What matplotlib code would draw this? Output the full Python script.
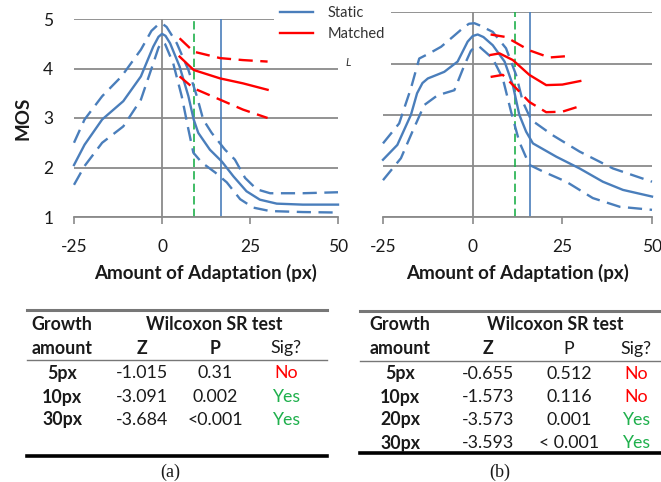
import numpy as np
import matplotlib
matplotlib.use('Agg')
import matplotlib.pyplot as plt
from matplotlib.lines import Line2D

plt.rcParams['font.family'] = ['Lato', 'DejaVu Sans']
plt.rcParams['axes.unicode_minus'] = False

# ---- chart (a) ----
a_static_x  = [-25, -22, -17, -11, -6, -2.5, -1, 0, 1, 2.3, 5, 7.5, 9, 10.3, 13.6, 17, 20.3, 24, 27.8, 32.6, 40, 50]
a_static_y  = [2.05, 2.46, 2.97, 3.34, 3.84, 4.44, 4.64, 4.70, 4.66, 4.51, 4.04, 3.44, 2.97, 2.70, 2.36, 2.12, 1.82, 1.52, 1.35, 1.27, 1.25, 1.25]
a_static_hx = [-25, -22, -17, -11.5, -6, -3, -1.2, 0, 1.3, 4.2, 7.5, 9.9, 11.7, 14.1, 17.9, 20.7, 23.6, 26.9, 30.7, 40, 50]
a_static_hy = [2.5, 2.97, 3.44, 3.84, 4.38, 4.76, 4.88, 4.91, 4.84, 4.51, 3.97, 3.44, 2.97, 2.70, 2.36, 2.16, 1.79, 1.56, 1.48, 1.48, 1.50]
a_static_lx = [-25, -22, -17, -11, -6, -2.5, -1, 0, 0.9, 3.2, 5.6, 7.5, 8.9, 11.3, 15.1, 18.4, 22.2, 25.9, 30.7, 40, 50]
a_static_ly = [1.65, 2.03, 2.5, 2.83, 3.37, 4.1, 4.42, 4.53, 4.49, 4.1, 3.44, 2.77, 2.3, 2.1, 1.9, 1.7, 1.36, 1.19, 1.12, 1.10, 1.09]
a_match_x   = [5, 9, 16.5, 23, 30]
a_match_y   = [4.24, 3.97, 3.80, 3.70, 3.57]
a_match_hy  = [4.61, 4.34, 4.21, 4.17, 4.14]
a_match_ly  = [3.84, 3.60, 3.37, 3.17, 3.00]
a_green, a_blue = 9.2, 16.8

# ---- chart (b) ----
b_static_x  = [-25, -21, -17.2, -15.5, -14, -12.5, -10, -7.9, -4.2, -1.4, 0, 1.4, 3, 5.6, 8.9, 11.2, 13, 14.9, 16.8, 23.3, 29.8, 36.3, 41.9, 50]
b_static_y  = [2.12, 2.41, 3.0, 3.42, 3.62, 3.71, 3.78, 3.84, 4.04, 4.43, 4.54, 4.57, 4.52, 4.36, 4.04, 3.58, 3.0, 2.67, 2.44, 2.18, 1.95, 1.69, 1.53, 1.40]
b_static_hx = [-25, -20.5, -17.2, -14.9, -12.1, -8.8, -5.6, -2.3, -1, 0.5, 1.9, 5.6, 9.3, 12.1, 14, 16.3, 22.3, 29.8, 39.1, 50]
b_static_hy = [2.44, 2.83, 3.52, 4.1, 4.2, 4.33, 4.52, 4.72, 4.78, 4.79, 4.75, 4.62, 4.3, 3.78, 3.25, 2.9, 2.6, 2.28, 1.95, 1.69]
b_static_lx = [-25, -20, -16.8, -13.5, -9.8, -5.1, -2.3, -0.5, 0.8, 1.9, 5.6, 8.4, 10.7, 13, 15.8, 19.6, 26.1, 33.5, 41, 50]
b_static_ly = [1.72, 2.15, 2.67, 3.19, 3.38, 3.48, 3.97, 4.25, 4.34, 4.33, 4.1, 3.71, 3.06, 2.47, 2.02, 1.89, 1.69, 1.37, 1.2, 1.14]
b_match_x   = [5, 7.5, 11.2, 15.8, 20.5, 25, 30]
b_match_y   = [4.17, 4.2, 4.07, 3.78, 3.58, 3.59, 3.66]
b_match_hx  = [5, 9.3, 15.8, 21.4, 27]
b_match_hy  = [4.57, 4.52, 4.26, 4.12, 4.15]
b_match_lx  = [5, 8.4, 12.1, 15.8, 20.5, 25, 30]
b_match_ly  = [3.74, 3.78, 3.52, 3.25, 3.05, 3.06, 3.17]
b_green, b_blue = 11.8, 16.0

# ---- tables ----
a_growth = ['5px', '10px', '30px']
a_z      = ['-1.015', '-3.091', '-3.684']
a_p      = ['0.31', '0.002', '<0.001']
a_sig    = ['No', 'Yes', 'Yes']
b_growth = ['5px', '10px', '20px', '30px']
b_z      = ['-0.655', '-1.573', '-3.573', '-3.593']
b_p      = ['0.512', '0.116', '0.001', '< 0.001']
b_sig    = ['No', 'No', 'Yes', 'Yes']

BLUE = '#4a7ebb'
RED = '#ff0000'
GREEN = '#1fb04c'
GRID = '#8a8a8a'
TXT = '#1a1a1a'
W, H = 661, 482

def fx(px): return px / W
def fy(py): return 1 - py / H

fig = plt.figure(figsize=(6.61, 4.82), dpi=100)
axA = fig.add_axes([fx(74), fy(217), (338 - 74) / W, (217 - 19) / H])
axB = fig.add_axes([fx(383), fy(217), (652 - 383) / W, (217 - 12.5) / H])

def setup(ax, ylabels):
    ax.set_xlim(-25, 50)
    ax.set_ylim(1, 5)
    for s in ['top', 'right', 'left']:
        ax.spines[s].set_visible(False)
    ax.spines['bottom'].set_color(GRID)
    ax.spines['bottom'].set_linewidth(1.3)
    ax.set_xticks([-25, 0, 25, 50])
    ax.set_yticks([1, 2, 3, 4, 5])
    ax.tick_params(axis='x', direction='out', length=5, width=1.2, color=GRID,
                   pad=11, labelsize=12.5, labelcolor=TXT)
    ax.tick_params(axis='y', length=0, pad=15, labelsize=12.5, labelcolor=TXT,
                   labelleft=ylabels)
    ax.yaxis.grid(True, color=GRID, lw=1.3)
    ax.axvline(0, color=GRID, lw=1.3, zorder=1)
    ax.set_axisbelow(True)
    ax.set_xlabel('Amount of Adaptation (px)', fontsize=13.5, fontweight='bold',
                  color=TXT, labelpad=6)

setup(axA, True)
setup(axB, False)
axA.set_ylabel('MOS', fontsize=13.5, fontweight='bold', color=TXT, labelpad=8)

dash = (0, (6, 3.2))
kw = dict(lw=1.7, clip_on=False, solid_joinstyle='round', dash_joinstyle='round')

def draw(ax, sx, sy, hx, hy, lx, ly, mx, my, mhx, mhy, mlx, mly, g, b):
    ax.axvline(g, color=GREEN, lw=1.2, ls=(0, (5, 2.5)), zorder=2)
    ax.axvline(b, color=BLUE, lw=1.2, zorder=2)
    ls, = ax.plot(sx, sy, color=BLUE, **kw)
    ax.plot(hx, hy, color=BLUE, ls=dash, **kw)
    ax.plot(lx, ly, color=BLUE, ls=dash, **kw)
    lm, = ax.plot(mx, my, color=RED, **kw)
    ax.plot(mhx, mhy, color=RED, ls=dash, **kw)
    ax.plot(mlx, mly, color=RED, ls=dash, **kw)
    return ls, lm

hs, hm = draw(axA, a_static_x, a_static_y, a_static_hx, a_static_hy, a_static_lx, a_static_ly,
              a_match_x, a_match_y, a_match_x, a_match_hy, a_match_x, a_match_ly, a_green, a_blue)
draw(axB, b_static_x, b_static_y, b_static_hx, b_static_hy, b_static_lx, b_static_ly,
     b_match_x, b_match_y, b_match_hx, b_match_hy, b_match_lx, b_match_ly, b_green, b_blue)

blank = Line2D([], [], color='none')
leg = fig.legend([hs, hm, blank], ['Static', 'Matched', ' '], loc='upper left',
                 bbox_to_anchor=(fx(274), fy(0)), fontsize=10.5, frameon=True,
                 facecolor='white', edgecolor='none', framealpha=1, fancybox=False,
                 borderpad=0.4, labelspacing=0.5, handlelength=2.3, handletextpad=1.0,
                 borderaxespad=0)
for t in leg.get_texts():
    t.set_color('#333333')
leg.set_zorder(10)
fig.text(fx(348), fy(62), 'L', fontsize=8, style='italic', color='#333333',
         ha='center', va='center', zorder=11)

# ---- tables ----
def table(x0, x1, ytop, yhead, ybot, cols, rows_y, growth, z, p, sig, pbold, caption, capx):
    fig.add_artist(Line2D([fx(x0), fx(x1)], [fy(ytop)] * 2, color='#777777', lw=2.2))
    fig.add_artist(Line2D([fx(x0), fx(x1)], [fy(yhead)] * 2, color='#777777', lw=1.0))
    fig.add_artist(Line2D([fx(x0), fx(x1)], [fy(ybot)] * 2, color='black', lw=2.6))
    cg, cz, cp, cs, cw = cols
    tk = dict(fontsize=12.8, color=TXT, ha='center', va='center')
    fig.text(fx(cg), fy(ytop + 14), 'Growth', fontweight='bold', **tk)
    fig.text(fx(cg), fy(ytop + 38), 'amount', fontweight='bold', **tk)
    fig.text(fx(cw), fy(ytop + 14), 'Wilcoxon SR test', fontweight='bold', **tk)
    fig.text(fx(cz), fy(ytop + 38), 'Z', fontweight='bold', **tk)
    fig.text(fx(cp), fy(ytop + 38), 'P', fontweight='bold' if pbold else 'normal', **tk)
    fig.text(fx(cs), fy(ytop + 38), 'Sig?', **tk)
    for yy, g, zz, pp, ss in zip(rows_y, growth, z, p, sig):
        fig.text(fx(cg), fy(yy), g, fontweight='bold', **tk)
        fig.text(fx(cz), fy(yy), zz, **tk)
        fig.text(fx(cp), fy(yy), pp, **tk)
        tk2 = dict(tk)
        tk2['color'] = RED if ss == 'No' else GREEN
        fig.text(fx(cs), fy(yy), ss, **tk2)
    fig.text(fx(capx), fy(472), caption, fontsize=13, family='Liberation Serif',
             color=TXT, ha='center', va='center')

table(27, 327, 310, 360, 456, (62, 142, 215, 286, 214), [373, 397, 420],
      a_growth, a_z, a_p, a_sig, True, '(a)', 170)
table(360, 660, 311, 361, 453, (400, 488, 569, 636, 555), [374, 397, 420, 443],
      b_growth, b_z, b_p, b_sig, False, '(b)', 500)

fig.savefig('out.png', dpi=100)
